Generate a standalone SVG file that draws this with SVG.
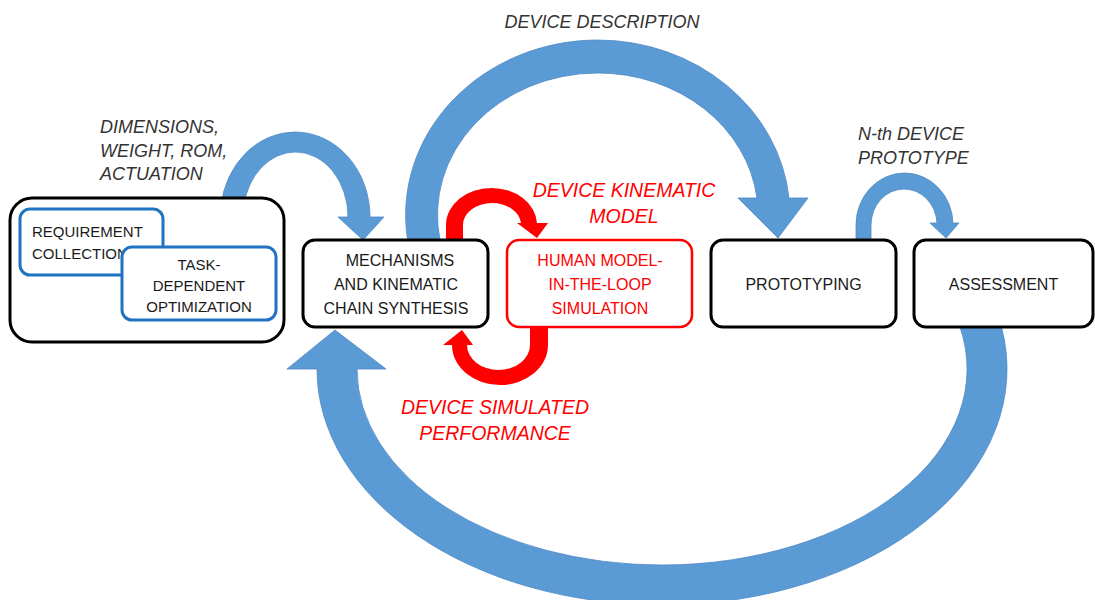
<svg xmlns="http://www.w3.org/2000/svg" width="1095" height="600" viewBox="0 0 1095 600">
<style>
.bg{fill:#ffffff}
.blue{fill:#5B9BD5;stroke:#4F88C4;stroke-width:0.8}
.red{fill:#FF0000}
.box{fill:#ffffff;stroke:#000000;stroke-width:3}
.bbox{fill:#ffffff;stroke:#1F73C1;stroke-width:3}
.rbox{fill:#ffffff;stroke:#FF0000;stroke-width:2.5}
.t{font-family:"Liberation Sans",Arial,sans-serif;font-size:16px;fill:#1a1a1a;text-anchor:middle}
.ts{font-family:"Liberation Sans",Arial,sans-serif;font-size:15px;fill:#1a1a1a}
.tr{font-family:"Liberation Sans",Arial,sans-serif;font-size:16px;fill:#FF0000;text-anchor:middle}
.lab{font-family:"Liberation Sans",Arial,sans-serif;font-size:18px;font-style:italic;fill:#333333}
.labr{font-family:"Liberation Sans",Arial,sans-serif;font-size:19.5px;font-style:italic;fill:#FF0000;text-anchor:middle}
</style>
<rect class="bg" x="0" y="0" width="1095" height="600"/>
<g id="connectors">
  <path id="arrow-dimensions" class="blue" d="M243.7,206 L220.9,206 A74.9 85 0 0 1 295.1,132 A74.9 85 0 0 1 370,217 L384,217 L363,240 L338,217 L348,217 A52.6 65 0 0 0 295.4,152 A52.6 65 0 0 0 243.7,206 Z"/>
  <path id="arrow-description" class="blue" d="M440,243 L407.6,243 L407.6,240 A192.4 175 0 0 1 597.5,40 A192.4 175 0 0 1 789,198 L808,198 L778,238 L738,198 L757,198 A160.3 142 0 0 0 597.5,73 A160.3 142 0 0 0 440,240 Z"/>
  <path id="arrow-prototype" class="blue" d="M871,243 L856,243 L856,225 A48.5 52 0 0 1 904.5,173 A48.5 52 0 0 1 953,223 L959,223 L946,238 L930,223 L937,223 A33 36 0 0 0 904,189 A33 36 0 0 0 871,225 Z"/>
  <path id="arrow-feedback" class="blue" d="M962,318 L1002,318 L1001.5,327 A345 236 0 0 1 662,605 A345 236 0 0 1 317,369 L287,369 L335,330 L386,369 L357,369 A305 196 0 0 0 662,565 A305 196 0 0 0 960,327 Z"/>
  <path id="arrow-kinematic" class="red" d="M463,243 L446,243 L446,225 A45.5 37 0 0 1 491.5,188 A45.5 37 0 0 1 537,223 L548,223 L537,238 L517,223 L521,223 A29 22 0 0 0 492,203 A29 22 0 0 0 463,225 Z"/>
  <path id="arrow-performance" class="red" d="M530,324 L548,324 L548,345 A48 40 0 0 1 500,385 A48 40 0 0 1 452,345 L443,345 L462,330 L473,345 L467,345 A31.5 25 0 0 0 498.5,370 A31.5 25 0 0 0 530,345 Z"/>
</g>
<g id="labels">
  <text class="lab" x="602" y="28" text-anchor="middle" font-size="17.5">DEVICE DESCRIPTION</text>
  <text class="lab" x="100" y="133">DIMENSIONS,</text>
  <text class="lab" x="100" y="156.5">WEIGHT, ROM,</text>
  <text class="lab" x="100" y="180">ACTUATION</text>
  <text class="lab" x="858" y="140">N-th DEVICE</text>
  <text class="lab" x="858" y="164">PROTOTYPE</text>
  <text class="labr" x="624" y="197">DEVICE KINEMATIC</text>
  <text class="labr" x="624" y="223">MODEL</text>
  <text class="labr" x="495" y="414">DEVICE SIMULATED</text>
  <text class="labr" x="495" y="440">PERFORMANCE</text>
</g>
<g id="node-requirements">
  <rect class="box" x="10" y="198" width="274" height="144" rx="22"/>
  <g id="node-requirement-collection">
    <rect class="bbox" x="20" y="209" width="143" height="66" rx="10"/>
    <text class="ts" x="32" y="237">REQUIREMENT</text>
    <text class="ts" x="32" y="259">COLLECTION</text>
  </g>
  <g id="node-task-optimization">
    <rect class="bbox" x="122" y="247" width="154" height="73" rx="10"/>
    <text class="ts" x="199" y="270" text-anchor="middle">TASK-</text>
    <text class="ts" x="199" y="291" text-anchor="middle">DEPENDENT</text>
    <text class="ts" x="199" y="312" text-anchor="middle">OPTIMIZATION</text>
  </g>
</g>
<g id="node-mechanisms">
  <rect class="box" x="303" y="240" width="185" height="87" rx="12"/>
  <text class="t" x="400" y="265.5">MECHANISMS</text>
  <text class="t" x="396" y="289.5">AND KINEMATIC</text>
  <text class="t" x="396" y="313.5">CHAIN SYNTHESIS</text>
</g>
<g id="node-simulation">
  <rect class="rbox" x="507" y="240" width="185" height="87" rx="12"/>
  <text class="tr" x="600" y="265.5">HUMAN MODEL-</text>
  <text class="tr" x="600" y="289.5">IN-THE-LOOP</text>
  <text class="tr" x="600" y="313.5">SIMULATION</text>
</g>
<g id="node-prototyping">
  <rect class="box" x="711" y="240" width="185" height="87" rx="12"/>
  <text class="t" x="803.5" y="290">PROTOTYPING</text>
</g>
<g id="node-assessment">
  <rect class="box" x="914" y="240" width="179" height="87" rx="12"/>
  <text class="t" x="1003.5" y="290">ASSESSMENT</text>
</g>
</svg>
